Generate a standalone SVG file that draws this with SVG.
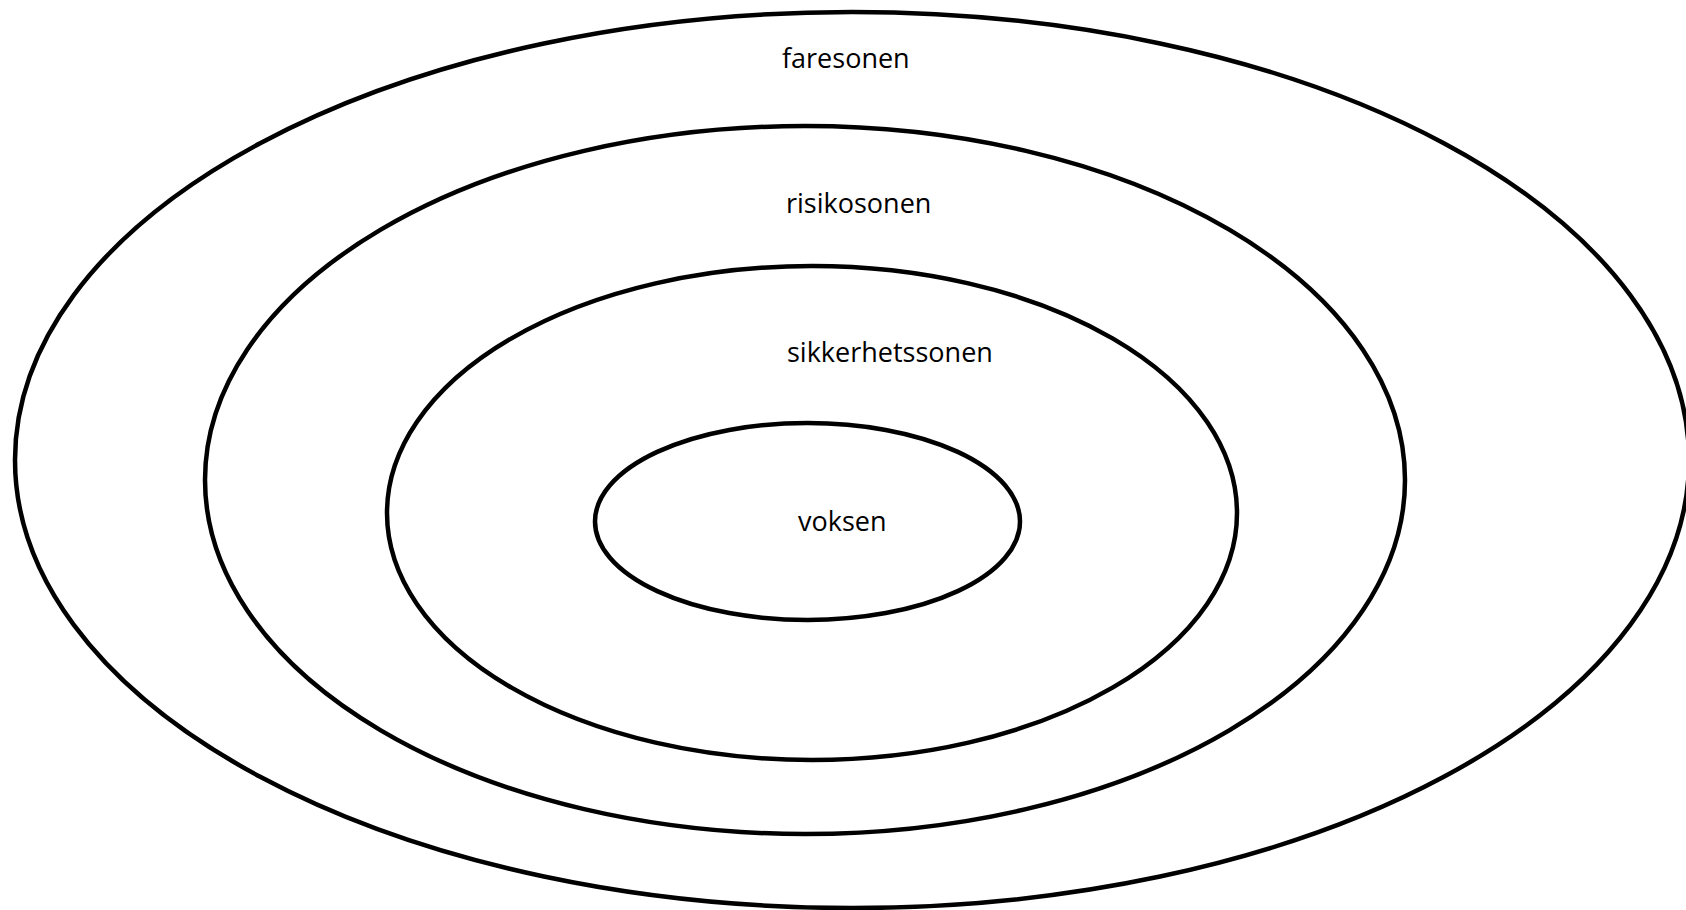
<svg xmlns="http://www.w3.org/2000/svg" width="1686" height="910" viewBox="0 0 1686 910">
<style>
.z{fill:none;stroke:#000;stroke-width:4.5}
.t{font-family:"Open Sans","Noto Sans",sans-serif;font-size:27px;fill:#000}
</style>
<rect width="1686" height="910" fill="#fff"/>
<g id="faresonen"><ellipse class="z" cx="852" cy="460" rx="837" ry="448"/><text class="t" x="782" y="68">faresonen</text></g>
<g id="risikosonen"><ellipse class="z" cx="805" cy="480" rx="600" ry="354"/><text class="t" x="786" y="213">risikosonen</text></g>
<g id="sikkerhetssonen"><ellipse class="z" cx="812" cy="513" rx="425" ry="247"/><text class="t" x="787" y="362">sikkerhetssonen</text></g>
<g id="voksen"><ellipse class="z" cx="807.5" cy="521.5" rx="212.5" ry="98.5"/><text class="t" x="798" y="531">voksen</text></g>
<g id="connectors"/>
</svg>
